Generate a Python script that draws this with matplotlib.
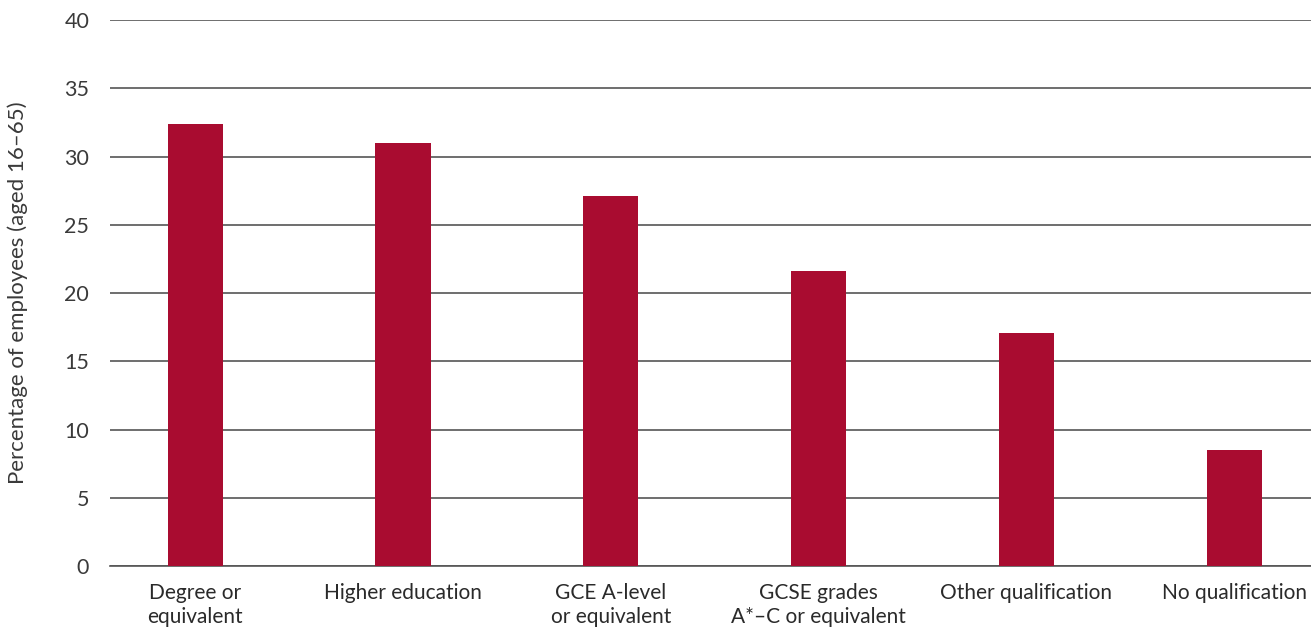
import matplotlib.pyplot as plt
import numpy as np

categories = ['Degree or\nequivalent', 'Higher education', 'GCE A-level\nor equivalent',
              'GCSE grades\nA*\u2013C or equivalent', 'Other qualification', 'No qualification']
values = [32.4, 31.0, 27.1, 21.6, 17.1, 8.5]
yticks = [0, 5, 10, 15, 20, 25, 30, 35, 40]

plt.rcParams['font.family'] = ['Lato', 'DejaVu Sans']

fig = plt.figure(figsize=(13.11, 6.31), dpi=100)
ax = fig.add_axes([0.0839, 0.103, 0.9161, 0.865])

x = np.arange(len(categories))
ax.set_axisbelow(True)
ax.yaxis.grid(True, color='#555555', linewidth=1.2)
ax.bar(x, values, width=0.265, color='#A90C30', zorder=3)

ax.set_ylim(0, 40)
ax.set_yticks(yticks)
ax.set_xlim(-0.41, 5.37)
ax.set_xticks(x)
ax.set_xticklabels(categories, fontsize=15, color='#2a2a2a', linespacing=1.3)
ax.tick_params(axis='y', labelsize=15.5, labelcolor='#3a3a3a', length=0, pad=15)
ax.tick_params(axis='x', length=0, pad=12)

for s in ['top', 'right', 'left']:
    ax.spines[s].set_visible(False)
ax.spines['bottom'].set_color('#555555')
ax.spines['bottom'].set_linewidth(1.2)

ax.set_ylabel('Percentage of employees (aged 16\u201365)', fontsize=16, color='#3a3a3a', labelpad=26)

fig.savefig('out.png', dpi=100)
